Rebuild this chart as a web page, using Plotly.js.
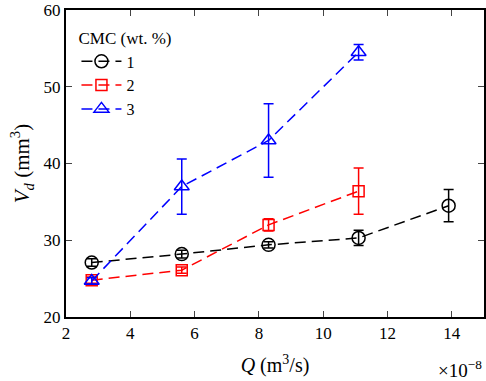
<!DOCTYPE html>
<html>
<head>
<meta charset="utf-8">
<script src="https://cdn.plot.ly/plotly-3.0.1.min.js"></script>
<style>
  html, body { margin: 0; padding: 0; background: #fff; }
  #chart { width: 486px; height: 381px; }
</style>
</head>
<body>
<div id="chart"></div>
<script>
// flow rate Q (x 1e-8 m^3/s)
var q1 = [2.8, 5.6, 8.3, 11.1, 13.9];
var q23 = [2.8, 5.6, 8.3, 11.1];

// droplet volume Vd (mm^3) per CMC concentration
var vd1 = [27.1, 28.2, 29.4, 30.3, 34.5];
var err1 = [0.5, 0.5, 0.4, 1.0, 2.1];
var vd2 = [24.8, 26.1, 32.0, 36.4];
var err2 = [0.4, 0.4, 0.8, 3.0];
var vd3 = [24.7, 37.0, 43.0, 54.5];
var err3 = [0.4, 3.6, 4.8, 1.0];

var names = ["1", "2", "3"];
var colors = ["black", "red", "blue"];
var symbols = ["circle-open", "square-open", "triangle-up-open"];

function series(x, y, e, i) {
  return {
    x: x, y: y, name: names[i], type: "scatter", mode: "lines+markers",
    line: {color: colors[i], width: 1.5, dash: "11px,6px"},
    marker: {symbol: symbols[i], size: i == 1 ? 11 : 13, color: colors[i], line: {color: colors[i], width: 1.5}},
    error_y: {type: "data", array: e, visible: true, color: colors[i], thickness: 1.5, width: 5}
  };
}

var data = [series(q1, vd1, err1, 0), series(q23, vd2, err2, 1), series(q23, vd3, err3, 2)];

var serif = "'Liberation Serif', 'Times New Roman', 'DejaVu Serif', serif";

var layout = {
  width: 486, height: 381,
  margin: {l: 66, r: 2, t: 10, b: 64},
  paper_bgcolor: "white", plot_bgcolor: "white",
  font: {family: serif, size: 17, color: "black"},
  showlegend: true,
  legend: {
    x: 0.025, y: 0.96, xanchor: "left", yanchor: "top",
    bgcolor: "rgba(0,0,0,0)", font: {family: serif, size: 16},
    title: {text: "CMC (wt. %)", font: {family: serif, size: 17}},
    tracegroupgap: 0, itemwidth: 40
  },
  xaxis: {
    range: [2, 15], tickvals: [2, 4, 6, 8, 10, 12, 14],
    ticks: "inside", ticklen: 6, tickwidth: 1.2, mirror: "ticks",
    tickfont: {family: serif, size: 17},
    showline: true, linecolor: "black", linewidth: 2, showgrid: false, zeroline: false,
    title: {text: "<i>Q</i> (m<sup>3</sup>/s)", font: {family: serif, size: 20}, standoff: 16}
  },
  yaxis: {
    range: [20, 60], tickvals: [20, 30, 40, 50, 60],
    ticks: "inside", ticklen: 6, tickwidth: 1.2, mirror: "ticks",
    tickfont: {family: serif, size: 17},
    showline: true, linecolor: "black", linewidth: 2, showgrid: false, zeroline: false,
    title: {text: "<i>V<sub>d</sub></i> (mm<sup>3</sup>)", font: {family: serif, size: 21}, standoff: 8}
  },
  annotations: [{
    text: "×10<sup>−8</sup>", xref: "paper", yref: "paper", x: 1, y: 0,
    xanchor: "right", yanchor: "top", yshift: -38, showarrow: false,
    font: {family: serif, size: 19}
  }]
};

Plotly.newPlot("chart", data, layout, {displayModeBar: false});
</script>
</body>
</html>
